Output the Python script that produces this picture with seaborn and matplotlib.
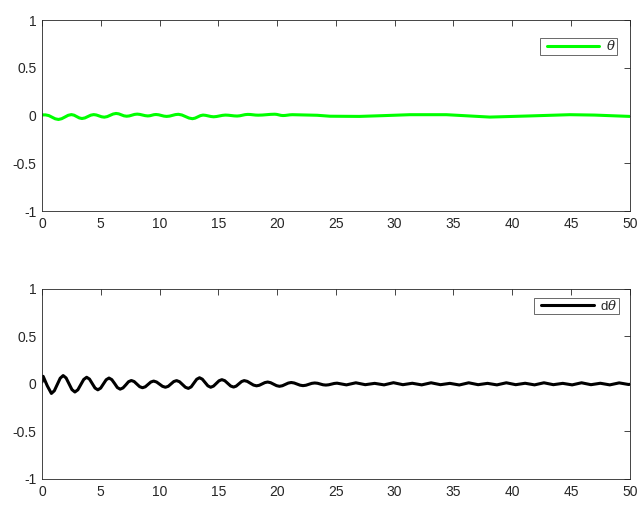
import matplotlib
matplotlib.use("Agg")
import matplotlib.pyplot as plt
from matplotlib.lines import Line2D
from matplotlib.legend_handler import HandlerLine2D
import seaborn as sns
import pandas as pd

# theta (top panel)
theta_t = [0.0, 0.3, 0.575, 0.85, 1.125, 1.4, 1.675, 1.95, 2.225, 2.5, 2.725, 2.95, 3.175,
           3.4, 3.65, 3.9, 4.15, 4.4, 4.625, 4.85, 5.075, 5.3, 5.55, 5.8, 6.05,
           6.3, 6.525, 6.75, 6.975, 7.2, 7.425, 7.65, 7.875, 8.1, 8.325, 8.55, 8.775,
           9.0, 9.175, 9.35, 9.525, 9.7, 9.925, 10.15, 10.375, 10.6, 10.85, 11.1, 11.35,
           11.6, 11.9, 12.2, 12.5, 12.8, 13.025, 13.25, 13.475, 13.7, 13.925, 14.15, 14.375,
           14.6, 14.85, 15.1, 15.35, 15.6, 15.85, 16.1, 16.35, 16.6, 16.825, 17.05, 17.275,
           17.5, 17.725, 17.95, 18.175, 18.4, 18.75, 19.1, 19.45, 19.8, 19.975, 20.15, 20.325,
           20.5, 20.7, 20.9, 21.1, 21.3, 23.4, 24.5,
           27.0, 29.0, 31.3, 34.4, 38.1, 41.5, 44.9, 47.0, 50.0]
theta_v = [0.008, 0.008, 0.001, -0.016, -0.033, -0.040, -0.032, -0.0145, 0.0035,
           0.011, 0.005, -0.0095, -0.024, -0.030, -0.024, -0.0095, 0.005,
           0.011, 0.007, -0.0025, -0.012, -0.016, -0.010, 0.0035, 0.017,
           0.023, 0.019, 0.0085, -0.002, -0.006, -0.003, 0.005, 0.013,
           0.016, 0.013, 0.0065, 0.000, -0.003, -0.001, 0.0045, 0.010,
           0.012, 0.009, 0.002, -0.005, -0.008, -0.005, 0.003, 0.011,
           0.014, 0.007, -0.009, -0.025, -0.032, -0.026, -0.013, 0.000,
           0.006, 0.003, -0.003, -0.009, -0.012, -0.009, -0.003, 0.003,
           0.006, 0.0045, 0.001, -0.0025, -0.004, -0.0015, 0.0045, 0.0105,
           0.013, 0.012, 0.009, 0.006, 0.005, 0.0065, 0.010, 0.0135,
           0.015, 0.013, 0.008, 0.003, 0.001, 0.0023, 0.0055, 0.0087,
           0.010, 0.004, -0.006,
           -0.008, 0.000, 0.010, 0.010, -0.015, -0.003, 0.010, 0.006, -0.008]

# d(theta) (bottom panel)
dtheta_t = [0.0, 0.1, 0.45,
            0.8, 1.05, 1.3, 1.55, 1.8, 2.05, 2.3, 2.55, 2.8, 3.05, 3.3, 3.55,
            3.8, 4.04, 4.28, 4.51, 4.75, 4.99, 5.23, 5.46, 5.7, 5.94, 6.18, 6.41,
            6.65, 6.89, 7.13, 7.36, 7.6, 7.84, 8.08, 8.31, 8.55, 8.79, 9.03, 9.26,
            9.5, 9.75, 10.0, 10.25, 10.5, 10.74, 10.98, 11.21, 11.45, 11.7, 11.95, 12.2,
            12.45, 12.69, 12.93, 13.16, 13.4, 13.64, 13.88, 14.11, 14.35, 14.59, 14.83, 15.06,
            15.3, 15.55, 15.8, 16.05, 16.3, 16.52, 16.75, 16.98, 17.2, 17.46, 17.72, 17.99,
            18.25, 18.49, 18.73, 18.96, 19.2, 19.45, 19.7, 19.95, 20.2, 20.45, 20.7, 20.95,
            21.2, 21.45, 21.7, 21.95, 22.2, 22.45, 22.7, 22.95, 23.2, 23.44, 23.68, 23.91,
            24.15, 24.39, 24.63, 24.86,
            25.1, 25.9, 26.7, 27.5, 28.3, 29.1, 29.9, 30.7, 31.5, 32.3, 33.1, 33.9,
            34.7, 35.5, 36.3, 37.1, 37.9, 38.7, 39.5, 40.3, 41.1, 41.9, 42.7, 43.5,
            44.3, 45.1, 45.9, 46.7, 47.5, 48.3, 49.1, 49.9, 50.0]
dtheta_v = [0.020, 0.080, -0.020,
            -0.100, -0.072, -0.006, 0.060, 0.088, 0.063, 0.002, -0.060, -0.085, -0.062, -0.008, 0.047,
            0.070, 0.051, 0.004, -0.043, -0.062, -0.044, 0.000, 0.044, 0.062, 0.045, 0.004, -0.038,
            -0.055, -0.042, -0.010, 0.023, 0.036, 0.025, -0.002, -0.029, -0.040, -0.030, -0.005, 0.020,
            0.030, 0.020, -0.003, -0.025, -0.035, -0.025, 0.000, 0.025, 0.035, 0.023, -0.006, -0.035,
            -0.047, -0.031, 0.009, 0.049, 0.065, 0.050, 0.015, -0.020, -0.035, -0.023, 0.005, 0.033,
            0.045, 0.034, 0.006, -0.022, -0.033, -0.023, 0.001, 0.025, 0.035, 0.027, 0.008, -0.012,
            -0.020, -0.014, 0.000, 0.014, 0.020, 0.013, -0.003, -0.018, -0.025, -0.019, -0.005, 0.009,
            0.015, 0.010, -0.002, -0.013, -0.018, -0.014, -0.004, 0.006, 0.010, 0.007, -0.001, -0.009,
            -0.012, -0.009, -0.002, 0.005,
            0.008, -0.010, 0.012, -0.008, 0.006, -0.010, 0.013, -0.008, 0.007, -0.010, 0.012, -0.008,
            0.006, -0.011, 0.012, -0.008, 0.006, -0.010, 0.012, -0.008, 0.007, -0.010, 0.012, -0.008,
            0.006, -0.010, 0.012, -0.008, 0.007, -0.010, 0.011, -0.006, -0.004]

x_ticks = [0, 5, 10, 15, 20, 25, 30, 35, 40, 45, 50]
y_ticks = [-1, -0.5, 0, 0.5, 1]
y_labels = ["-1", "-0.5", "0", "0.5", "1"]

sns.set_theme(style="white")
plt.rcParams['font.family'] = ['Liberation Sans', 'DejaVu Sans']
plt.rcParams['mathtext.fontset'] = 'dejavuserif'

fig = plt.figure(figsize=(6.4, 5.05), dpi=100)
ax1 = fig.add_axes([0.0656, 0.582, 0.9184, 0.378])
ax2 = fig.add_axes([0.0656, 0.0515, 0.9184, 0.3765])

top = pd.DataFrame({"t": theta_t, "v": theta_v})
bot = pd.DataFrame({"t": dtheta_t, "v": dtheta_v})

sns.lineplot(data=top, x="t", y="v", ax=ax1, color=(0, 1, 0), lw=2.2,
             estimator=None, sort=False, label=r"$\theta$")
sns.lineplot(data=bot, x="t", y="v", ax=ax2, color="black", lw=2.2,
             estimator=None, sort=False, label=r"d$\theta$")

axis_gray = "#262626"
# legend anchors (axes fraction) for the two panels
leg_anchor = {ax1: (0.978, 0.906), ax2: (0.981, 0.953)}
for ax in (ax1, ax2):
    ax.set_xlim(0, 50)
    ax.set_ylim(-1, 1)
    ax.set_xticks(x_ticks)
    ax.set_yticks(y_ticks)
    ax.set_yticklabels(y_labels)
    ax.set_xlabel("")
    ax.set_ylabel("")
    ax.grid(False)
    for s in ax.spines.values():
        s.set_visible(True)
        s.set_color(axis_gray)
        s.set_linewidth(0.6)
    ax.tick_params(direction="in", top=True, right=True, length=4, width=0.6,
                   color=axis_gray, labelcolor=axis_gray, labelsize=10, pad=4)
    # xpad leaves a gap between the frame and the legend line, like MATLAB
    leg = ax.legend(loc="upper right", bbox_to_anchor=leg_anchor[ax],
                    handlelength=4.4, fontsize=9.5, frameon=True, fancybox=False,
                    borderpad=0.1, borderaxespad=0, handletextpad=0.5,
                    handler_map={Line2D: HandlerLine2D(xpad=0.45)})
    leg.get_frame().set_edgecolor(axis_gray)
    leg.get_frame().set_linewidth(0.6)

fig.savefig("out.png", dpi=100)
